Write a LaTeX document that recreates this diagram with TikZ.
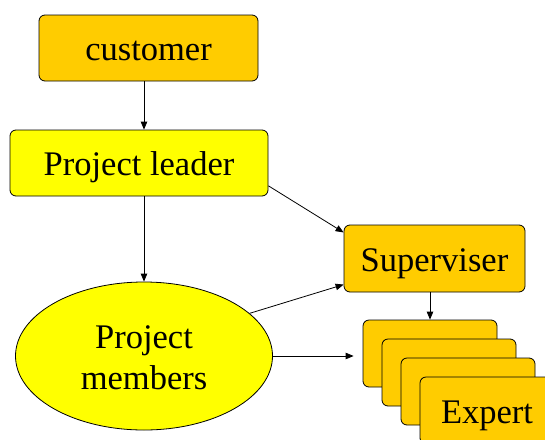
\documentclass[tikz,border=0pt]{standalone}
\usepackage{fontspec}
\setmainfont{Liberation Serif}
\usetikzlibrary{positioning}
\usetikzlibrary{calc}
\usetikzlibrary{shapes.geometric}
\usetikzlibrary{arrows.meta}
\definecolor{boxorange}{HTML}{FFCC00}
\definecolor{boxyellow}{HTML}{FFFF00}

\begin{document}
\begin{tikzpicture}[x=1pt, y=-1pt,
    every node/.style={font=\fontsize{34.5}{41}\selectfont},
    roundbox/.style={draw=black, line width=0.8pt, rounded corners=6pt,
      text height=30pt, text depth=5pt, inner sep=0pt},
    expbox/.style={roundbox, fill=boxorange, minimum width=134, minimum height=67},
    link/.style={-{Triangle[length=8pt,width=6.5pt]}, line width=0.8pt}]
            \useasboundingbox (0, 0) rectangle (545, 439);

            \node[roundbox, fill=boxorange, minimum width=219, minimum height=66] (cust) at (148.5, 48) {customer};
            \node[roundbox, fill=boxyellow, minimum width=258, minimum height=66] (lead) at (139, 163) {Project leader};
            \node[roundbox, fill=boxorange, minimum width=181, minimum height=67] (sup) at (434.5, 258.5) {Superviser};
            \node[ellipse, draw=black, line width=0.8pt, fill=boxyellow, inner sep=0pt,
              minimum width=257, minimum height=148] (memb) at (144, 356) {};
            \node[align=center] (membtext) at ($(memb.center)+(0,2)$) {Project\\members};

            \node[expbox] (exp1) at (430, 353.5) {};
            \node[expbox] (exp2) at (449, 372.5) {};
            \node[expbox] (exp3) at (468, 391.5) {};
            \node[expbox] (exp4) at (487, 410.5) {Expert};

            \draw[link] (cust.south -| memb.north) -- (lead.north -| memb.north);
            \draw[link] (lead.south -| memb.north) -- (memb.north);
            \draw[link] (lead.-10) -- (sup.164);
            \draw[link] (memb.22) -- (sup.196);
            \draw[link, shorten >=9pt] (memb.east) -- (memb.east -| exp1.west);
            \draw[link] (sup.south -| exp1.north) -- (exp1.north);

          \end{tikzpicture}
\end{document}
